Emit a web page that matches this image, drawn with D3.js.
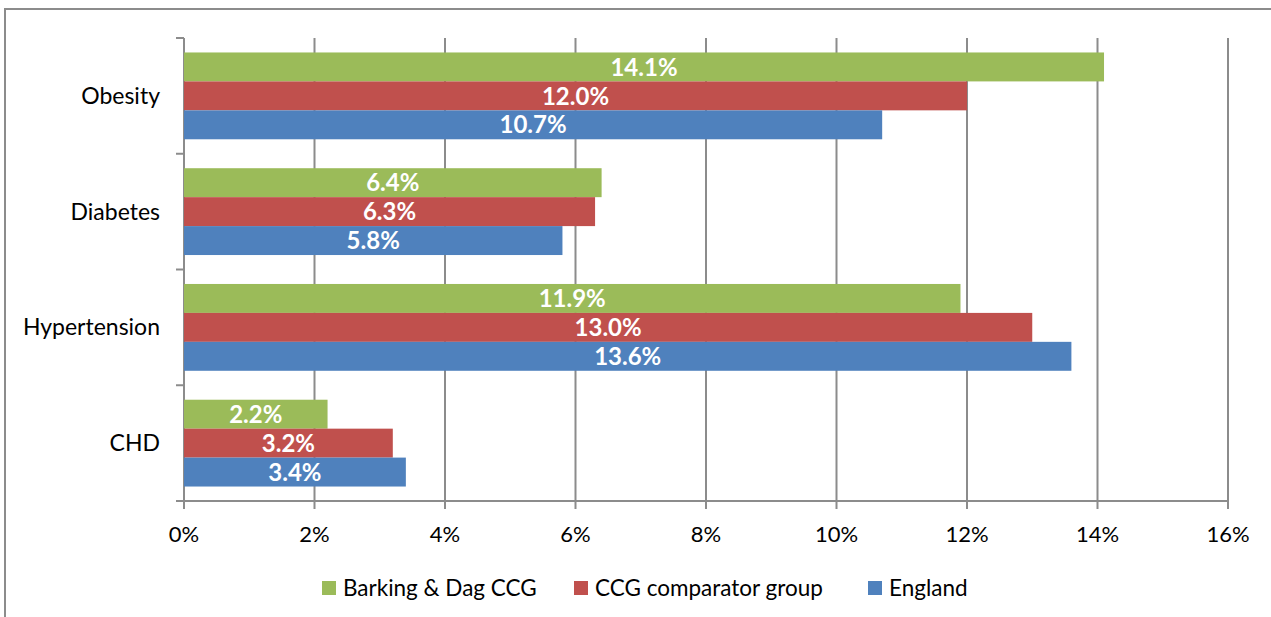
<!DOCTYPE html>
<html>
<head>
<meta charset="utf-8">
<script src="https://cdn.jsdelivr.net/npm/d3@7"></script>
<style>
  body { margin: 0; background: #fff; }
  svg { display: block; font-family: Lato, "Open Sans", sans-serif; }
</style>
</head>
<body>
<svg id="chart" width="1271" height="617"></svg>
<script>
// data (percent)
var categories = ["Obesity", "Diabetes", "Hypertension", "CHD"];
var series = ["Barking & Dag CCG", "CCG comparator group", "England"];
var barking = [14.1, 6.4, 11.9, 2.2];
var comparator = [12.0, 6.3, 13.0, 3.2];
var england = [10.7, 5.8, 13.6, 3.4];
var xTicks = [0, 2, 4, 6, 8, 10, 12, 14, 16];
var colors = ["#9BBB59", "#C0504D", "#4F81BD"];

var values = [barking, comparator, england];

var svg = d3.select("#chart");
var plotLeft = 184, plotRight = 1228, plotTop = 38, plotBottom = 501;
var gridColor = "#8c8c8c";

// outer frame, runs off the right and bottom edge like the original
svg.append("rect")
  .attr("x", 5).attr("y", 9)
  .attr("width", 1280).attr("height", 640)
  .attr("fill", "none")
  .attr("stroke", gridColor)
  .attr("stroke-width", 2);

var x = d3.scaleLinear().domain([0, 16]).range([plotLeft, plotRight]);

var y = d3.scaleBand()
  .domain(categories)
  .range([plotTop, plotBottom])
  .paddingInner(0.25)
  .paddingOuter(0.125);

var ySub = d3.scaleBand()
  .domain(series)
  .range([0, y.bandwidth()]);

// vertical gridlines
svg.append("g")
  .selectAll("line")
  .data(xTicks)
  .join("line")
  .attr("x1", d => x(d)).attr("x2", d => x(d))
  .attr("y1", plotTop).attr("y2", plotBottom + 8)
  .attr("stroke", gridColor)
  .attr("stroke-width", 2);

// x axis line and labels
svg.append("line")
  .attr("x1", plotLeft - 8).attr("x2", plotRight)
  .attr("y1", plotBottom).attr("y2", plotBottom)
  .attr("stroke", gridColor).attr("stroke-width", 2);

svg.append("g")
  .selectAll("text")
  .data(xTicks)
  .join("text")
  .attr("x", d => x(d))
  .attr("y", 542)
  .attr("text-anchor", "middle")
  .attr("font-size", 22)
  .attr("fill", "#000")
  .text(d => d + "%");

// y axis line and category boundary ticks
svg.append("line")
  .attr("x1", plotLeft).attr("x2", plotLeft)
  .attr("y1", plotTop).attr("y2", plotBottom)
  .attr("stroke", gridColor).attr("stroke-width", 2);

var step = y.step();
var bounds = d3.range(categories.length + 1).map(i => plotTop + i * step);
svg.append("g")
  .selectAll("line")
  .data(bounds)
  .join("line")
  .attr("x1", plotLeft - 8).attr("x2", plotLeft)
  .attr("y1", d => d).attr("y2", d => d)
  .attr("stroke", gridColor).attr("stroke-width", 2);

svg.append("g")
  .selectAll("text")
  .data(categories)
  .join("text")
  .attr("x", 160)
  .attr("y", d => y(d) + y.bandwidth() / 2)
  .attr("dy", "0.35em")
  .attr("text-anchor", "end")
  .attr("font-size", 23)
  .attr("fill", "#000")
  .text(d => d);

// bars
var rows = [];
categories.forEach(function(c, i) {
  series.forEach(function(s, j) {
    rows.push({ cat: c, ser: s, idx: j, v: values[j][i] });
  });
});

var bars = svg.append("g");
bars.selectAll("rect")
  .data(rows)
  .join("rect")
  .attr("x", x(0))
  .attr("y", d => y(d.cat) + ySub(d.ser))
  .attr("width", d => x(d.v) - x(0))
  .attr("height", ySub.bandwidth())
  .attr("fill", d => colors[d.idx]);

bars.selectAll("text")
  .data(rows)
  .join("text")
  .attr("x", d => (x(0) + x(d.v)) / 2)
  .attr("y", d => y(d.cat) + ySub(d.ser) + ySub.bandwidth() / 2)
  .attr("dy", "0.36em")
  .attr("text-anchor", "middle")
  .attr("font-size", 24)
  .attr("font-weight", "bold")
  .attr("fill", "#fff")
  .text(d => d.v.toFixed(1) + "%");

// legend
var legendX = [322, 574, 868];
var legend = svg.append("g")
  .selectAll("g")
  .data(series)
  .join("g")
  .attr("transform", (d, i) => "translate(" + legendX[i] + ",581)");

legend.append("rect")
  .attr("width", 14).attr("height", 14)
  .attr("fill", (d, i) => colors[i]);

legend.append("text")
  .attr("x", 21)
  .attr("y", 7)
  .attr("dy", "0.35em")
  .attr("font-size", 22.5)
  .attr("fill", "#000")
  .text(d => d);
</script>
</body>
</html>
